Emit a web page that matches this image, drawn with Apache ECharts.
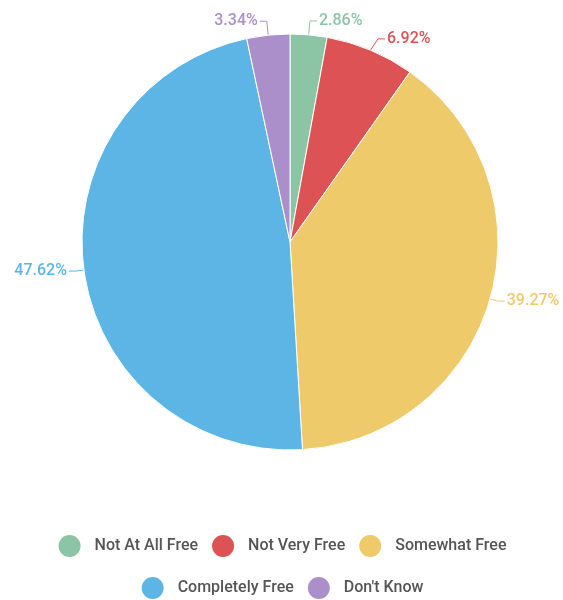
<!DOCTYPE html>
<html>
<head>
<meta charset="utf-8">
<script src="https://cdn.jsdelivr.net/npm/echarts@6/dist/echarts.min.js"></script>
<style>
  html, body { margin: 0; padding: 0; background: #fff; }
  #chart { width: 563px; height: 600px; }
</style>
</head>
<body>
<div id="chart"></div>
<script>
  // categories and values (percent)
  var categories = ['Not At All Free', 'Not Very Free', 'Somewhat Free', 'Completely Free', "Don't Know"];
  var values = [2.86, 6.92, 39.27, 47.62, 3.34];
  var colors = ['#8cc4a6', '#dd5254', '#efca6a', '#5db5e5', '#aa8fca'];

  var pieData = [];
  for (var i = 0; i < categories.length; i++) {
    var item = { name: categories[i], value: values[i] };
    // small slices at the top get a longer leader line
    if (values[i] < 10) item.labelLine = { length: 14, length2: 7 };
    pieData.push(item);
  }

  var myChart = echarts.init(document.getElementById('chart'));
  var legendBase = {
    icon: 'circle',
    itemWidth: 24,
    itemHeight: 24,
    itemGap: 12,
    textStyle: { fontFamily: 'Roboto', fontSize: 16, color: '#555', fontWeight: 500, padding: [0, 0, 0, 8] }
  };
  myChart.setOption({
    color: colors,
    textStyle: { fontFamily: 'Roboto' },
    legend: [
      Object.assign({}, legendBase, { data: categories.slice(0, 3), left: 'center', top: 528 }),
      Object.assign({}, legendBase, { data: categories.slice(3), left: 'center', top: 570 })
    ],
    series: [{
      type: 'pie',
      center: [290, 242],
      radius: [0, 208],
      startAngle: 90,
      clockwise: true,
      data: pieData,
      itemStyle: { borderColor: '#fff', borderWidth: 1 },
      label: {
        formatter: function (p) { return p.value.toFixed(2) + '%'; },
        fontSize: 16,
        fontWeight: 500,
        color: 'inherit',
        overflow: 'none',
        alignTo: 'none',
        distanceToLabelLine: 2
      },
      labelLine: { length: 8, length2: 7, lineStyle: { width: 1 } }
    }]
  });
</script>
</body>
</html>
